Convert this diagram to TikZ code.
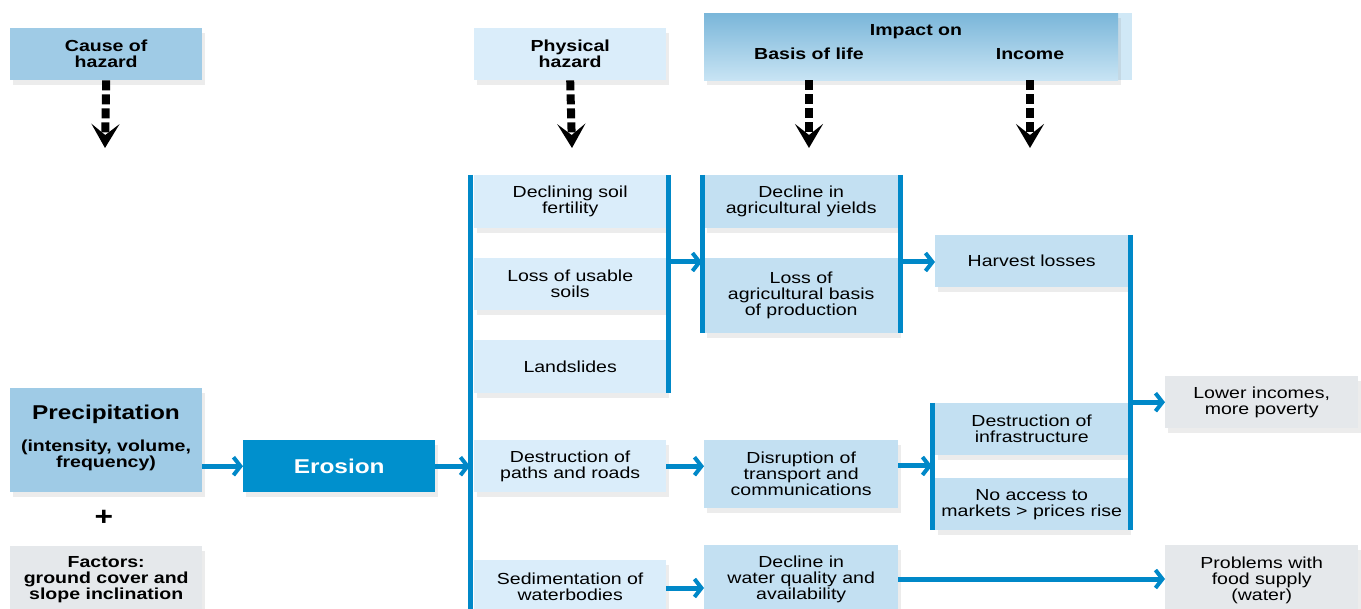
\documentclass[tikz,border=0pt]{standalone}
\usepackage{fontspec}
\setmainfont{Liberation Sans}[FakeStretch=1.22]
\usetikzlibrary{arrows.meta,shadows}
\definecolor{medblue}{HTML}{9FCBE6}
\definecolor{lightb}{HTML}{DAEDFA}
\definecolor{basisb}{HTML}{C3E0F2}
\definecolor{grayb}{HTML}{E5E8EB}
\definecolor{barblue}{HTML}{0088C8}
\definecolor{erob}{HTML}{0090CD}
\definecolor{headtop}{HTML}{7AB6D9}
\definecolor{headbot}{HTML}{C8E4F4}
\begin{document}
\begin{tikzpicture}[x=1pt,y=-1pt,
  box/.style={fill=#1, draw=none, inner sep=0pt, anchor=north west, align=center,
    font=\fontsize{16}{16}\selectfont,
    drop shadow={shadow xshift=3pt, shadow yshift=-5pt, opacity=0.15}},
  hdr/.style={box=#1, font=\bfseries\fontsize{16}{16}\selectfont},
  bar/.style={draw=barblue, line width=5pt},
  barrow/.style={draw=barblue, line width=5pt, -{Straight Barb[length=7pt,width=18pt,line width=4pt]}},
  darrow/.style={draw=black, line width=8pt, dash pattern=on 10pt off 4pt,
    -{Stealth[length=24pt,width=28pt,inset=11pt]}},
  txt/.style={inner sep=0pt, align=center, font=\bfseries\fontsize{16}{16}\selectfont}
]
\clip (0,0) rectangle (1361,609);
\useasboundingbox (0,0) rectangle (1361,609);

% headers
\node[hdr=medblue, minimum width=192pt, minimum height=52pt] (cause) at (10,28) {Cause of\\hazard};
\node[hdr=lightb, minimum width=192pt, minimum height=52pt] (phys) at (474,28) {Physical\\hazard};
\fill[headbot!85] (1110,13) rectangle (1132,80);
\node[box=headtop, top color=headtop, bottom color=headbot, minimum width=414pt, minimum height=67pt] (impact) at (704,13) {};
\node[txt] (impon) at (916,32) {Impact on};
\node[txt] (basis) at (809,54) {Basis of life};
\node[txt] (income) at (1030,54) {Income};

% dashed arrows
\coordinate (c1) at (105,148);
\coordinate (c2) at (572,148);
\coordinate (c3) at (809,148);
\coordinate (c4) at (1030,148);
\draw[darrow] (cause.south) -- (c1);
\draw[darrow] (phys.south) -- (c2);
\draw[darrow] (basis |- impact.south) -- (c3);
\draw[darrow] (income |- impact.south) -- (c4);

% left column
\node[box=medblue, minimum width=192pt, minimum height=104pt] (precip) at (10,388) {};
\node[txt, font=\bfseries\fontsize{20}{20}\selectfont] (precipT) at (106,414) {Precipitation};
\node[txt] (precipS) at (106,455) {(intensity, volume,\\frequency)};
\node[txt, font=\bfseries\fontsize{26}{26}\selectfont] (plus) at (104,518) {+};
\node[hdr=grayb, minimum width=192pt, minimum height=66pt] (factors) at (10,546) {Factors:\\ground cover and\\slope inclination};
\node[box=erob, text=white, font=\bfseries\fontsize{20}{20}\selectfont, minimum width=192pt, minimum height=52pt] (erosion) at (243,440) {Erosion};

% physical hazard column
\node[box=lightb, minimum width=192pt, minimum height=53pt] (dsf) at (474,175) {Declining soil\\fertility};
\node[box=lightb, minimum width=192pt, minimum height=52pt] (lus) at (474,258) {Loss of usable\\soils};
\node[box=lightb, minimum width=192pt, minimum height=53pt] (land) at (474,340) {Landslides};
\node[box=lightb, minimum width=192pt, minimum height=52pt] (paths) at (474,440) {Destruction of\\paths and roads};
\node[box=lightb, minimum width=192pt, minimum height=54pt] (sed) at (474,560) {Sedimentation of\\waterbodies};

% basis of life column
\node[box=basisb, minimum width=194pt, minimum height=53pt] (yields) at (704,175) {Decline in\\agricultural yields};
\node[box=basisb, minimum width=194pt, minimum height=75pt] (lossag) at (704,258) {Loss of\\agricultural basis\\of production};
\node[box=basisb, minimum width=194pt, minimum height=68pt] (disr) at (704,440) {Disruption of\\transport and\\communications};
\node[box=basisb, minimum width=194pt, minimum height=68pt] (water) at (704,545) {Decline in\\water quality and\\availability};

% income column
\node[box=basisb, minimum width=193pt, minimum height=52pt] (harv) at (935,235) {Harvest losses};
\node[box=basisb, minimum width=193pt, minimum height=52pt] (infra) at (935,403) {Destruction of\\infrastructure};
\node[box=basisb, minimum width=193pt, minimum height=52pt] (market) at (935,478) {No access to\\markets > prices rise};

% outcomes
\node[box=grayb, minimum width=193pt, minimum height=52pt] (lower) at (1165,376) {Lower incomes,\\more poverty};
\node[box=grayb, minimum width=193pt, minimum height=70pt] (food) at (1165,545) {Problems with\\food supply\\(water)};

% bars
\coordinate (bA1) at (470,175); \coordinate (bA2) at (470,620);
\coordinate (bB1) at (668,175); \coordinate (bB2) at (668,393);
\coordinate (bC1) at (702,175); \coordinate (bC2) at (702,333);
\coordinate (bD1) at (900,175); \coordinate (bD2) at (900,333);
\coordinate (bE1) at (932,403); \coordinate (bE2) at (932,530);
\coordinate (bF1) at (1130,235); \coordinate (bF2) at (1130,530);
\draw[bar] (bA1) -- (bA2);
\draw[bar] (bB1) -- (bB2);
\draw[bar] (bC1) -- (bC2);
\draw[bar] (bD1) -- (bD2);
\draw[bar] (bE1) -- (bE2);
\draw[bar] (bF1) -- (bF2);

% blue arrows
\draw[barrow] (precip.east |- erosion.west) -- (erosion.west);
\draw[barrow] (erosion.east) -- (erosion.east -| bA1);
\coordinate (g1) at (668,262);
\draw[barrow] (g1) -- (g1 -| bC1);
\coordinate (g2) at (900,262);
\draw[barrow] (g2) -- (g2 -| harv.west);
\draw[barrow] (paths.east) -- (paths.east -| disr.west);
\draw[barrow] (sed.east |- 0,588) -- (water.west |- 0,588);
\draw[barrow] (disr.east |- 0,466) -- (bE1 |- 0,466);
\draw[barrow] (bF1 |- lower.west) -- (lower.west);
\draw[barrow] (water.east |- 0,579) -- (food.west |- 0,579);
\end{tikzpicture}
\end{document}
